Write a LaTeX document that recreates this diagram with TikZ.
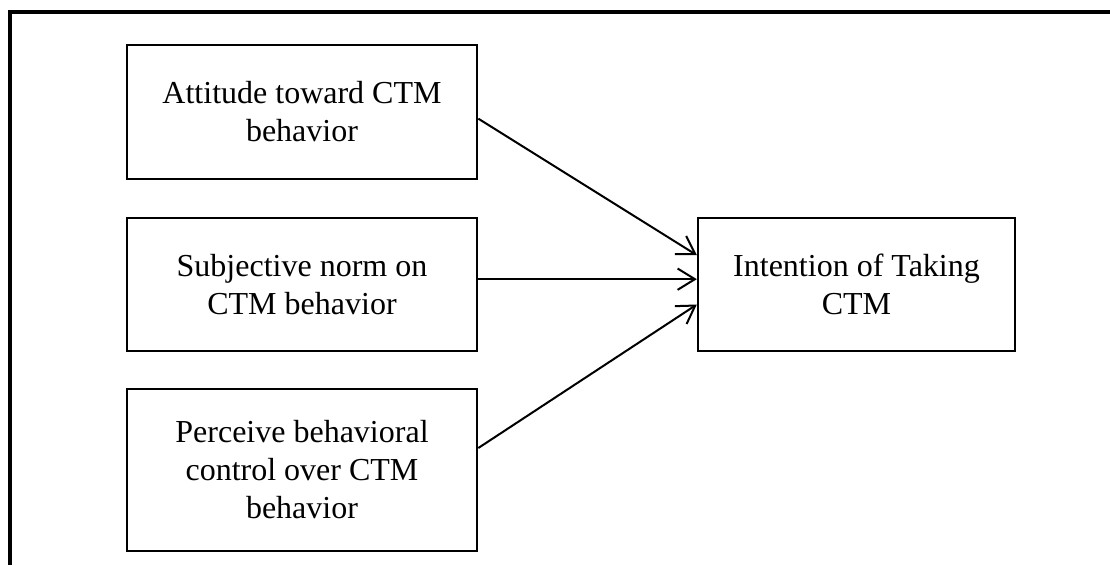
\documentclass[tikz,border=0pt]{standalone}
\usepackage{fontspec}
\setmainfont{Liberation Serif}
\usetikzlibrary{arrows.meta}

\tikzset{
  factor/.style={draw=black, line width=1.5pt, align=center, inner sep=0pt,
    font=\fontsize{24}{28.5}\selectfont},
  arr/.style={line width=1.5pt, -{Straight Barb[length=13pt, width=16pt]}}
}

\begin{document}
\begin{tikzpicture}[x=0.75pt, y=-0.75pt] %px
            \useasboundingbox (0,0) rectangle (1110,565);

            \draw[black, line width=3pt] (10,565) -- (10,11.5) -- (1110,11.5);

            \node[factor, minimum width=263pt, minimum height=101pt] (att) at (302,112) {Attitude toward CTM\\behavior};
            \node[factor, minimum width=263pt, minimum height=100pt] (norm) at (302,284.5) {Subjective norm on\\CTM behavior};
            \node[factor, minimum width=263pt, minimum height=121pt] (ctrl) at (302,470) {Perceive behavioral\\control over CTM\\behavior};
            \node[factor, minimum width=238pt, minimum height=100pt] (int) at (856.5,284.5) {Intention of Taking\\CTM};

            \draw[arr] ([yshift=-5pt]att.east) -- ([yshift=22pt]int.west);
            \draw[arr] ([yshift=4pt]norm.east) -- ([yshift=4pt]int.west);
            \draw[arr] ([yshift=16.5pt]ctrl.east) -- ([yshift=-15pt]int.west);
        \end{tikzpicture}
\end{document}
